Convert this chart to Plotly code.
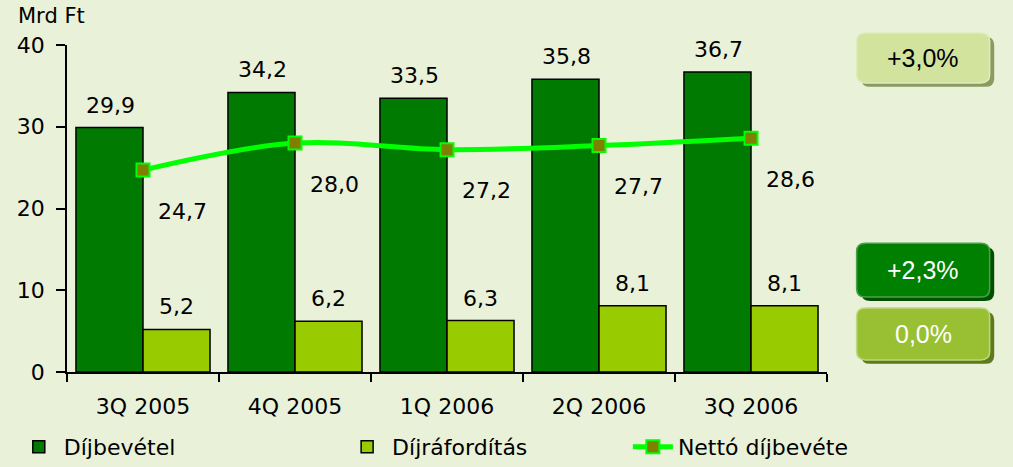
import plotly.graph_objects as go

categories = ["3Q 2005", "4Q 2005", "1Q 2006", "2Q 2006", "3Q 2006"]
dijbevetel = [29.9, 34.2, 33.5, 35.8, 36.7]
dijraforditas = [5.2, 6.2, 6.3, 8.1, 8.1]
netto = [24.7, 28.0, 27.2, 27.7, 28.6]
y_ticks = [0, 10, 20, 30, 40]

def hu(v):
    return f"{v:.1f}".replace(".", ",")

BG = "#E9F1D9"
FONT = "DejaVu Sans"
FS = 22
fig = go.Figure()
fig.add_trace(go.Bar(
    x=categories, y=dijbevetel, name="Díjbevétel", legend="legend",
    marker=dict(color="#007A00", line=dict(color="black", width=1.5)),
))
fig.add_trace(go.Bar(
    x=categories, y=dijraforditas, name="Díjráfordítás", legend="legend2",
    marker=dict(color="#99CC00", line=dict(color="black", width=1.5)),
))
fig.add_trace(go.Scatter(
    x=categories, y=netto, name="Nettó díjbevéte", mode="lines+markers", legend="legend3",
    line=dict(color="#00FF00", width=5, shape="spline"),
    marker=dict(symbol="square", size=13, color="#808000", line=dict(color="#00FF00", width=2)),
))
for c, v in zip(categories, dijbevetel):
    fig.add_annotation(x=c, y=v, text=hu(v), showarrow=False, xshift=-33, yshift=8,
                       yanchor="bottom", font=dict(size=FS, color="black", family=FONT))
for c, v in zip(categories, dijraforditas):
    fig.add_annotation(x=c, y=v, text=hu(v), showarrow=False, xshift=33, yshift=8,
                       yanchor="bottom", font=dict(size=FS, color="black", family=FONT))
for c, v in zip(categories, netto):
    fig.add_annotation(x=c, y=v, text=hu(v), showarrow=False, xshift=39, yshift=-41,
                       font=dict(size=FS, color="black", family=FONT))

fig.add_annotation(x=-0.021, y=1.046, xref="paper", yref="paper", xanchor="center", yanchor="bottom",
                   text="Mrd Ft", showarrow=False,
                   font=dict(size=FS - 1, color="black", family=FONT))

def rounded(x0, x1, y0, y1, rx=0.012, ry=0.025):
    return (f"M {x0+rx},{y0} L {x1-rx},{y0} Q {x1},{y0} {x1},{y0+ry} L {x1},{y1-ry} "
            f"Q {x1},{y1} {x1-rx},{y1} L {x0+rx},{y1} Q {x0},{y1} {x0},{y1-ry} "
            f"L {x0},{y0+ry} Q {x0},{y0} {x0+rx},{y0} Z")

boxes = [
    ("+3,0%", 0.884, 1.037, "#D2E39E", "#8A9A60", "black", "#E0ECBC"),
    ("+2,3%", 0.229, 0.394, "#008000", "#005000", "white", "#4CA04C"),
    ("0,0%", 0.037, 0.196, "#99C033", "#5E7A1C", "white", "#BCD884"),
]
bx0, bx1 = 1.039, 1.214
shapes = []
for label, y0, y1, fill, shadow, tcol, hl in boxes:
    shapes.append(dict(type="path", xref="paper", yref="paper",
                       path=rounded(bx0 + 0.006, bx1 + 0.006, y0 - 0.012, y1 - 0.012),
                       fillcolor=shadow, line=dict(width=0)))
    shapes.append(dict(type="path", xref="paper", yref="paper",
                       path=rounded(bx0, bx1, y0, y1),
                       fillcolor=fill, line=dict(color=hl, width=1.5)))
    fig.add_annotation(x=(bx0 + bx1) / 2, y=(y0 + y1) / 2, xref="paper", yref="paper",
                       xanchor="center", yanchor="middle",
                       text=label, showarrow=False,
                       font=dict(size=25, color=tcol, family="Liberation Sans"))

def leg(x):
    return dict(orientation="h", x=x, y=0.043, yref="container", xanchor="left", yanchor="middle",
                font=dict(size=FS, family=FONT), itemwidth=40, bgcolor="rgba(0,0,0,0)")

fig.update_layout(
    width=1013, height=467,
    margin=dict(l=67, r=186, t=45, b=95, autoexpand=False),
    paper_bgcolor=BG, plot_bgcolor=BG,
    barmode="group", bargap=0.118, bargroupgap=0,
    shapes=shapes,
    font=dict(family=FONT, size=FS, color="black"),
    showlegend=True,
    legend=leg(-0.07), legend2=leg(0.362), legend3=leg(0.738),
    xaxis=dict(showline=True, linecolor="black", linewidth=1.5, ticks="outside",
               tickson="boundaries", ticklen=8, tickcolor="black", tickwidth=1.5, automargin=False,
               ticklabelstandoff=14, tickfont=dict(size=FS), showgrid=False),
    yaxis=dict(range=[0, 40], tickvals=y_ticks, showline=True, linecolor="black",
               linewidth=1.5, ticks="outside", ticklen=9, tickcolor="black", tickwidth=1.5,
               automargin=False,
               ticklabelstandoff=7, tickfont=dict(size=FS), showgrid=False, zeroline=False),
)
fig.write_html("out.html", config={"displayModeBar": False},
               post_script="document.body.style.margin='0';document.body.style.overflow='hidden';")
